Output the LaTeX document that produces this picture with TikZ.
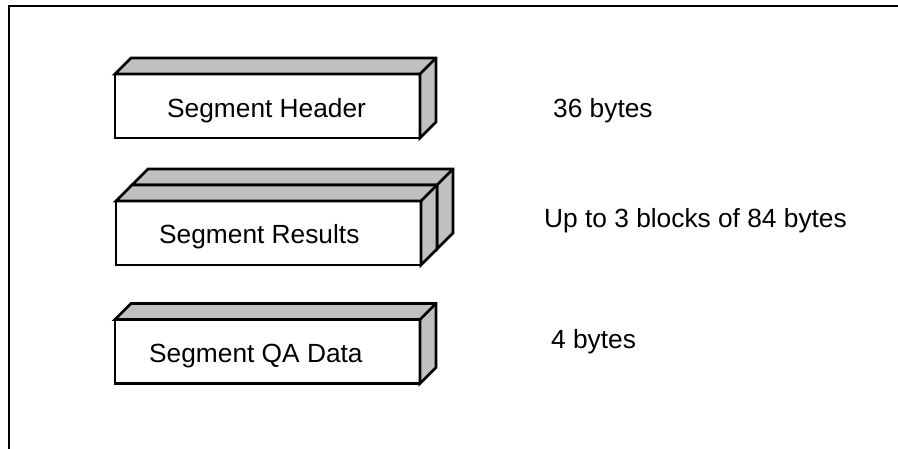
\documentclass[tikz,border=0pt]{standalone}
\usepackage{fontspec}
\setmainfont{Liberation Sans}
\usepackage{tikz}

\definecolor{slabgray}{RGB}{192,192,192}
\newcommand{\dep}{16}

% top and side faces behind a front node
\newcommand{\slabfaces}[1]{%
  \draw[face] (#1.north west) -- ++(\dep,-\dep) -- ([shift={(\dep,-\dep)}]#1.north east)
    -- ([shift={(\dep,-\dep)}]#1.south east) -- (#1.south east) -- (#1.north east) -- cycle;
  \draw[edge] (#1.north east) -- ++(\dep,-\dep);}

\tikzset{
  edge/.style={line width=2.8pt, line join=miter},
  face/.style={edge, fill=slabgray},
  front/.style={edge, draw, fill=white, minimum width=305pt, minimum height=64pt,
    inner sep=0pt, outer sep=0pt},
  lbl/.style={anchor=base west, inner sep=0pt, font=\fontsize{26.3}{31}\selectfont},
}

\begin{document}
\begin{tikzpicture}[x=1pt, y=-1pt]
  \useasboundingbox (0,0) rectangle (898,448);
  \begin{scope}
    \clip (0,0) rectangle (898,448);
    \draw[line width=2.6pt] (8.8,6) rectangle (920,470);
  \end{scope}

  % header
  \node[front] (hdr) at (267.5,106) {};
  \slabfaces{hdr}
  \node[lbl] (hdrtext) at (167,117) {Segment Header};

  % results, two slabs
  \node[front] (resback) at (284.5,217) {};
  \slabfaces{resback}
  \node[front] (res) at (268.5,233) {};
  \slabfaces{res}
  \node[lbl] (restext) at (159,243) {Segment Results};

  % QA data
  \node[front] (qa) at (267.5,351.5) {};
  \slabfaces{qa}
  \node[lbl] (qatext) at (149,362) {Segment QA Data};

  % sizes
  \node[lbl] (hdrsize) at (553,117) {36 bytes};
  \node[lbl] (ressize) at (544,227) {Up to 3 blocks of 84 bytes};
  \node[lbl] (qasize) at (551,348) {4 bytes};
\end{tikzpicture}
\end{document}
